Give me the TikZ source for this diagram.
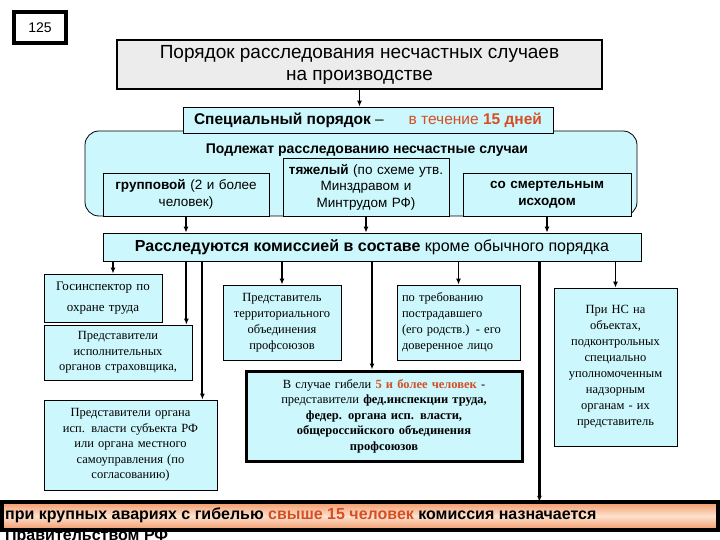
\documentclass[tikz,border=0pt]{standalone}
\usepackage{fontspec}
\setmainfont{Liberation Serif}
\setsansfont{Liberation Sans}
\usepackage{xcolor}
\usetikzlibrary{arrows.meta,positioning,calc}
\definecolor{cyanfill}{RGB}{204,247,252}
\definecolor{grayfill}{RGB}{236,236,236}
\definecolor{redtxt}{RGB}{214,78,36}
\definecolor{barmid}{RGB}{253,226,206}
\definecolor{baredge}{RGB}{242,152,104}

\begin{document}
\begin{tikzpicture}[x=1pt,y=-1pt,
  bx/.style={draw,fill=cyanfill,line width=0.8pt,inner sep=2pt,align=center},
  sbx/.style={bx,font=\sffamily\fontsize{13.5}{16.5}\selectfont},
  rbx/.style={bx,font=\rmfamily\fontsize{12.5}{16}\selectfont},
  ar/.style={-{Latex[length=6pt,width=5pt]},line width=1.2pt},
  ln/.style={ar,line width=2pt}]
  \useasboundingbox (0,0) rectangle (720,540);
  % header
  \node[draw,line width=4pt,fill=white,minimum width=52pt,minimum height=31pt,
    font=\sffamily\fontsize{14}{15}\selectfont] (num) at (40,27.5) {125};
  \node[draw,fill=grayfill,line width=1.6pt,minimum width=485pt,minimum height=49pt,
    align=center,font=\sffamily\fontsize{19}{22}\selectfont] (title) at (359.5,64.5)
    {Порядок расследования несчастных случаев\\на производстве};
  % special procedure
  \node[draw,fill=cyanfill,rounded corners=14pt,line width=0.8pt,
    minimum width=552pt,minimum height=85pt] (grp) at (361,173.5) {};
  \node[bx,minimum width=370pt,minimum height=26pt,font=\sffamily\fontsize{15.5}{17}\selectfont]
    (spec) at (368,120) {\textbf{Специальный порядок} --\hspace{1.6em}\textcolor{redtxt}{в течение \textbf{15 дней}}};
  \node[font=\sffamily\bfseries\fontsize{14}{15}\selectfont] (podl) at (367,150)
    {Подлежат расследованию несчастные случаи};
  \node[sbx,text width=162pt,minimum height=43pt] (g1) at (186,194.5)
    {\textbf{групповой} (2 и более\\человек)};
  \node[sbx,text width=162pt,minimum height=58pt] (g2) at (366,187)
    {\textbf{тяжелый} (по схеме утв.\\Минздравом и\\Минтрудом РФ)};
  \node[sbx,text width=164pt,minimum height=43pt,font=\sffamily\bfseries\fontsize{13.5}{16.5}\selectfont]
    (g3) at (547,194.5) {со смертельным\\исходом};
  \node[bx,minimum width=538pt,minimum height=28pt,font=\sffamily\fontsize{16}{17}\selectfont]
    (ras) at (372,247) {\textbf{Расследуются комиссией в составе} кроме обычного порядка};
  % commission members
  \node[rbx,text width=114pt,minimum height=48pt,font=\rmfamily\fontsize{13}{16}\selectfont] (gi) at (103,298)
    {Госинспектор по\\[5pt]охране труда};
  \node[rbx,text width=144pt,minimum height=55pt,font=\rmfamily\fontsize{12.5}{15.5}\selectfont]
    (pr2) at (118,352.5) {Представители\\исполнительных\\органов страховщика,};
  \node[rbx,text width=169pt,minimum height=90pt,font=\rmfamily\fontsize{12.5}{15.5}\selectfont]
    (pr3) at (130.5,445) {Представители органа\\исп. власти субъекта РФ\\или органа местного\\самоуправления (по\\согласованию)};
  \node[rbx,text width=114pt,minimum height=75pt] (terr) at (282,322.5)
    {Представитель\\территориального\\объединения\\профсоюзов};
  \node[rbx,text width=113pt,minimum height=75pt,align=left,inner xsep=5pt] (dov) at (458.5,322.5)
    {по требованию\\пострадавшего\\(его родств.) - его\\доверенное лицо};
  \node[rbx,line width=3pt,text width=272pt,minimum height=90pt,font=\rmfamily\fontsize{12.5}{15.5}\selectfont]
    (fed) at (384,416) {В случае гибели \textcolor{redtxt}{\textbf{5 и более человек}} -\\
    представители \textbf{фед.инспекции труда,}\\\textbf{федер. органа исп. власти,}\\
    \textbf{общероссийского объединения}\\\textbf{профсоюзов}};
  \node[rbx,text width=119pt,minimum height=158pt] (nadz) at (615.5,367)
    {При НС на\\объектах,\\подконтрольных\\специально\\уполномоченным\\надзорным\\органам - их\\представитель};
  % government commission
  \node[top color=baredge,bottom color=baredge,middle color=barmid,
    minimum width=716pt,minimum height=28pt] (bar) at (360,516) {};
  \node[anchor=north west,align=left,inner sep=0pt,
    font=\sffamily\bfseries\fontsize{16}{21}\selectfont] (bartxt) at (5,508)
    {при крупных авариях с гибелью \textcolor{redtxt}{свыше 15 человек} комиссия назначается\\Правительством РФ};
  \draw[line width=4pt] (bar.north west) rectangle (bar.south east);
  % arrows
  \draw[ar] (title.south) -- (title.south |- spec.north);
  \draw[ar] (g1.south) -- (g1.south |- ras.north);
  \draw[ar] (g2.south) -- (g2.south |- ras.north);
  \draw[ar] (g3.south) -- (g3.south |- ras.north);
  \draw[ar] ([xshift=10pt]gi.north |- ras.south) -- ([xshift=10pt]gi.north);
  \draw[ln] ([xshift=-6pt]pr2.north east |- ras.south) -- ([xshift=-6pt]pr2.north east);
  \draw[ln] ([xshift=-15pt]pr3.north east |- ras.south) -- ([xshift=-15pt]pr3.north east);
  \draw[ar] (terr.north |- ras.south) -- (terr.north);
  \draw[ln] ([xshift=-12pt]fed.north |- ras.south) -- ([xshift=-12pt]fed.north);
  \draw[ar] (dov.north |- ras.south) -- (dov.north);
  \draw[ar,line width=3.5pt] ([xshift=-102pt]ras.south east) -- ([xshift=-102pt]ras.south east |- bar.north);
  \draw[ar] (nadz.north |- ras.south) -- (nadz.north);
\end{tikzpicture}
\end{document}
